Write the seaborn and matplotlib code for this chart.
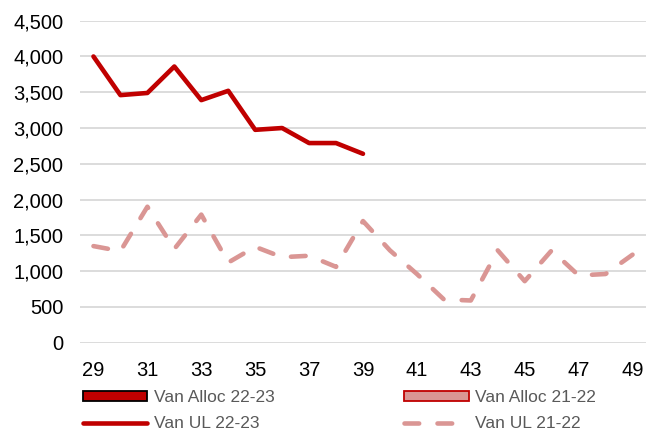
import numpy as np
import pandas as pd
import matplotlib
matplotlib.use("Agg")
import matplotlib.pyplot as plt
from matplotlib.patches import Patch
from matplotlib.lines import Line2D
from matplotlib.ticker import FuncFormatter
import seaborn as sns

weeks = list(range(29, 50))
ul_22_23 = [4000, 3460, 3490, 3860, 3390, 3520, 2975, 3000, 2790, 2790, 2640]
ul_21_22 = [1350, 1280, 1900, 1310, 1790, 1120, 1340, 1195, 1215, 1060, 1700,
            1290, 960, 605, 590, 1290, 860, 1290, 940, 960, 1230]
legend_labels = ["Van Alloc 22-23", "Van Alloc 21-22", "Van UL 22-23", "Van UL 21-22"]
xtick_vals = list(range(29, 50, 2))
ytick_vals = list(range(0, 4501, 500))

RED = "#C00000"
PINK = "#DA9694"
DASH = (3.2, 4.0)

sns.set_style("white")
plt.rcParams["font.family"] = ["Liberation Sans", "DejaVu Sans"]

fig = plt.figure(figsize=(6.55, 4.32), dpi=100)
ax = fig.add_axes([80/655, 1 - 342.7/432, (646-80)/655, (342.7-20.7)/432])

df_a = pd.DataFrame({"week": weeks[:len(ul_22_23)], "value": ul_22_23})
df_b = pd.DataFrame({"week": weeks, "value": ul_21_22})

lw = 3.3
sns.lineplot(data=df_b, x="week", y="value", ax=ax, color=PINK, linewidth=lw)
lb = ax.lines[-1]
lb.set_dashes(DASH)
lb.set_dash_capstyle("round")
lb.set_dash_joinstyle("round")
sns.lineplot(data=df_a, x="week", y="value", ax=ax, color=RED, linewidth=lw)
la = ax.lines[-1]
la.set_solid_capstyle("round")
la.set_solid_joinstyle("round")

ax.set_xlim(28.5, 49.5)
ax.set_ylim(0, 4500)
ax.set_xticks(xtick_vals)
ax.set_yticks(ytick_vals)
ax.yaxis.set_major_formatter(FuncFormatter(lambda v, p: f"{int(v):,}"))
ax.set_xlabel("")
ax.set_ylabel("")
ax.grid(axis="y", color="#D9D9D9", linewidth=1.3)
ax.set_axisbelow(True)
for s in ax.spines.values():
    s.set_visible(False)
ax.tick_params(axis="both", length=0, labelsize=14.5, colors="black")
ax.tick_params(axis="y", pad=12)
ax.tick_params(axis="x", pad=13)

handles = [
    Patch(facecolor=RED, edgecolor="black", linewidth=1.3),
    Patch(facecolor=PINK, edgecolor=RED, linewidth=1.3),
    Line2D([0], [0], color=RED, linewidth=lw, solid_capstyle="round"),
    Line2D([0], [0], color=PINK, linewidth=lw, dashes=DASH, dash_capstyle="round"),
]
positions = [(82.7, 397.7), (404.3, 397.7), (82.7, 424.0), (404.3, 424.0)]
for h, lab, (px, py) in zip(handles, legend_labels, positions):
    leg = fig.legend([h], [lab], loc="center left",
                     bbox_to_anchor=(px/655, 1 - py/432), frameon=False,
                     fontsize=12.5, handlelength=3.7, handleheight=0.58,
                     handletextpad=0.4, borderpad=0, borderaxespad=0)
    for t in leg.get_texts():
        t.set_color("#595959")

fig.savefig("out.png", dpi=100)
